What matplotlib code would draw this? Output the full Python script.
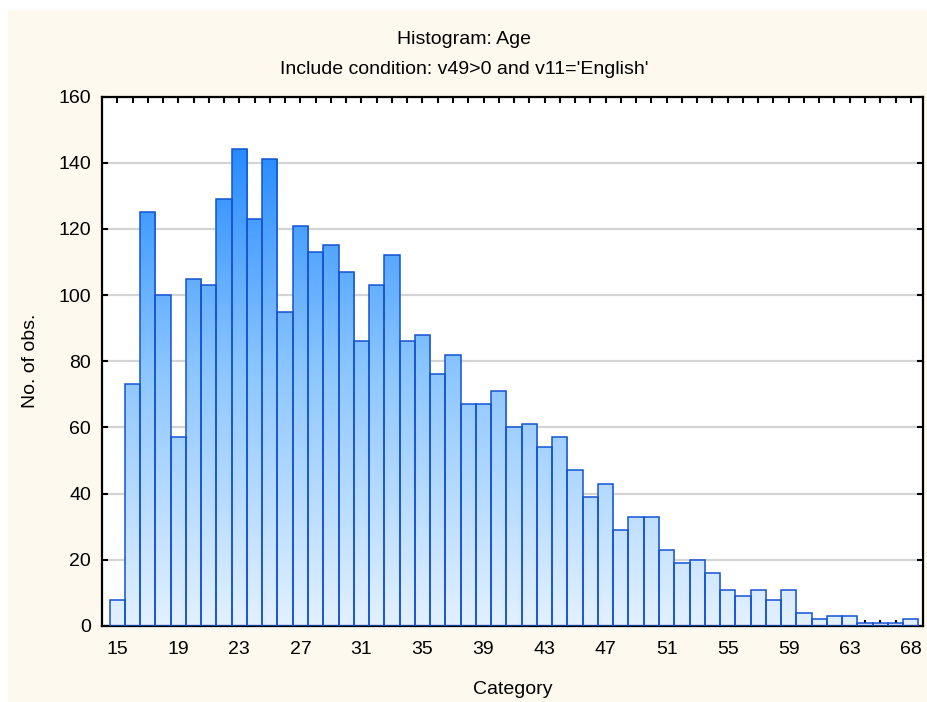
import numpy as np
import matplotlib.pyplot as plt
from matplotlib.colors import LinearSegmentedColormap
from matplotlib.patches import Rectangle

plt.rcParams['font.family'] = ['Liberation Sans', 'DejaVu Sans']

# counts per bin (53 bins, ages ~15 to 68)
counts = [8, 73, 125, 100, 57, 105, 103, 129, 144, 123, 141, 95, 121, 113, 115, 107, 86, 103, 112,
          86, 88, 76, 82, 67, 67, 71, 60, 61, 54, 57, 47, 39, 43, 29, 33, 33, 23, 19, 20, 16,
          11, 9, 11, 8, 11, 4, 2, 3, 3, 1, 1, 1, 2]
label_bins = [0, 4, 8, 12, 16, 20, 24, 28, 32, 36, 40, 44, 48, 52]
label_text = ['15', '19', '23', '27', '31', '35', '39', '43', '47', '51', '55', '59', '63', '68']
yticks = [0, 20, 40, 60, 80, 100, 120, 140, 160]

x = np.arange(len(counts))
fs = 14

fig = plt.figure(figsize=(9.28, 7.02), dpi=100)
fig.patch.set_facecolor('white')
# cream panel behind the chart
fig.patches.append(Rectangle((8 / 928, 0), 1, 1 - 10 / 702, transform=fig.transFigure,
                             facecolor='#FEF9EE', edgecolor='none', zorder=-10))

ax = fig.add_axes([102 / 928, 1 - 626 / 702, (923 - 102) / 928, (626 - 96.5) / 702])
ax.set_facecolor('white')

cmap = LinearSegmentedColormap.from_list('bluegrad', ['#E3F1FF', '#8CC6FF', '#1682FF'])
grad = np.linspace(0, 1, 256).reshape(-1, 1)

bars = ax.bar(x, counts, width=1.0, facecolor='none', edgecolor='#1452D2', linewidth=1.1, zorder=3)
for xi, bar in zip(x, bars):
    im = ax.imshow(grad, extent=(xi - 0.5, xi + 0.5, 0, 155), origin='lower', aspect='auto',
                   cmap=cmap, zorder=2, interpolation='bilinear')
    im.set_clip_path(bar)

ax.set_xlim(-1.0, 52.8)
ax.set_ylim(0, 160)

ax.set_yticks(yticks)
ax.yaxis.grid(True, color='#D4D4D4', linewidth=1.6, zorder=0)
ax.set_axisbelow(True)

ax.set_xticks(x)
lbls = [''] * len(counts)
for b, t in zip(label_bins, label_text):
    lbls[b] = t
ax.set_xticklabels(lbls)

ax.tick_params(direction='in', top=True, right=True, length=4, width=1.5, labelsize=fs)
ax.tick_params(axis='x', pad=10.5)
ax.tick_params(axis='y', pad=8)
for s in ax.spines.values():
    s.set_linewidth(1.6)
    s.set_color('black')

ax.set_xlabel('Category', fontsize=fs, labelpad=17)
ax.set_ylabel('No. of obs.', fontsize=fs, labelpad=14)

fig.text(0.5, 1 - 40 / 702, 'Histogram: Age', ha='center', va='center', fontsize=fs)
fig.text(0.5, 1 - 70 / 702, "Include condition: v49>0 and v11='English'", ha='center', va='center',
         fontsize=fs)

fig.savefig('out.png', dpi=100, facecolor=fig.get_facecolor())
